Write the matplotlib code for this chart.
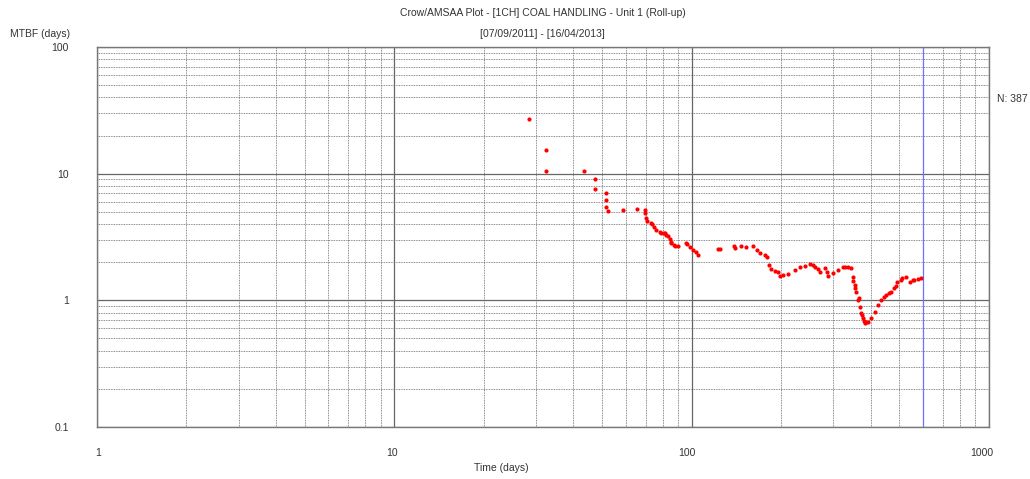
import matplotlib
matplotlib.use("Agg")
from matplotlib import pyplot as plt
from matplotlib.ticker import LogLocator, NullFormatter, FixedLocator
import matplotlib.transforms as mtransforms

plt.rcParams['font.family'] = ['Liberation Sans', 'DejaVu Sans']

# cumulative time (days) vs. MTBF (days)
time_days = [28.4, 32.3, 32.3, 43.4, 47.5, 47.5, 51.4, 51.4, 51.4, 52.5,
             58.7, 65.4, 69.7, 69.7, 70.5, 70.8, 73.3, 73.6, 74.5, 76.2,
             78.4, 79.1, 80.5, 81.2, 82.3, 83.0, 84.3, 85.1, 85.5, 87.1,
             87.8, 90.3, 96.0, 96.8, 98.5, 101.0, 103.8, 105.0, 122.7, 125.0,
             138.8, 139.5, 146.5, 152.8, 160.5, 165.9, 170.3, 176.0, 179.3, 182.0,
             185.5, 190.2, 195.2, 197.7, 202.8, 210.8, 222.0, 230.8, 240.0, 249.4,
             255.8, 259.2, 265.9, 269.4, 280.0, 285.0, 287.3, 298.7, 310.5, 322.6,
             327.0, 335.4, 344.3, 348.6, 350.0, 353.2, 355.0, 357.8, 363.0, 365.0,
             367.6, 372.0, 374.0, 376.7, 379.0, 381.6, 386.0, 391.5, 402.0, 412.4,
             423.0, 434.3, 445.0, 451.3, 462.0, 469.2, 480.0, 487.7, 492.0, 507.0,
             510.0, 527.0, 540.7, 554.6, 560.0, 576.6, 592.0]
mtbf_days = [27.0, 15.5, 10.4, 10.5, 9.08, 7.57, 7.05, 6.17, 5.49, 5.05,
             5.14, 5.30, 5.17, 4.86, 4.45, 4.21, 4.06, 4.00, 3.82, 3.60,
             3.45, 3.42, 3.40, 3.40, 3.28, 3.20, 3.03, 2.90, 2.85, 2.72,
             2.70, 2.70, 2.82, 2.79, 2.64, 2.50, 2.42, 2.26, 2.56, 2.54,
             2.69, 2.57, 2.69, 2.65, 2.69, 2.50, 2.36, 2.28, 2.19, 1.90,
             1.76, 1.71, 1.67, 1.56, 1.59, 1.61, 1.74, 1.82, 1.87, 1.94,
             1.90, 1.82, 1.76, 1.67, 1.79, 1.67, 1.56, 1.64, 1.74, 1.82,
             1.84, 1.84, 1.79, 1.54, 1.42, 1.33, 1.25, 1.16, 1.00, 1.04,
             0.886, 0.80, 0.76, 0.72, 0.69, 0.66, 0.67, 0.68, 0.72, 0.815,
             0.92, 1.01, 1.06, 1.10, 1.14, 1.17, 1.25, 1.30, 1.40, 1.45,
             1.50, 1.54, 1.40, 1.45, 1.45, 1.47, 1.51]

end_time = 599
n_failures = 387
x_ticks = [1, 10, 100, 1000]
x_labels = ['1', '10', '100', '1000']
y_ticks = [0.1, 1, 10, 100]
y_labels = ['0.1', '1', '10', '100']

fig = plt.figure(figsize=(10.30, 4.79), dpi=100)
ax = fig.add_axes([0.0939, 0.1086, 0.8663, 0.7933])
ax.set_xscale('log')
ax.set_yscale('log')
ax.set_xlim(1, 1000)
ax.set_ylim(0.1, 100)

ax.xaxis.set_major_locator(FixedLocator(x_ticks))
ax.yaxis.set_major_locator(FixedLocator(y_ticks))
ax.set_xticklabels(x_labels)
ax.set_yticklabels(y_labels)
ax.xaxis.set_minor_locator(LogLocator(base=10, subs=range(2, 10)))
ax.yaxis.set_minor_locator(LogLocator(base=10, subs=range(2, 10)))
ax.xaxis.set_minor_formatter(NullFormatter())
ax.yaxis.set_minor_formatter(NullFormatter())
ax.tick_params(which='both', length=0, labelsize=7.5, colors='#333333')
ax.tick_params(axis='x', pad=15)
ax.tick_params(axis='y', pad=20)

# x labels sit right-aligned just left of their gridline
for lab in ax.get_xticklabels():
    lab.set_horizontalalignment('right')
    lab.set_transform(lab.get_transform() + mtransforms.ScaledTranslation(4 / 100, 0, fig.dpi_scale_trans))

ax.grid(which='major', color='#666666', lw=0.9, ls='-')
ax.grid(which='minor', color='#666666', lw=0.6, ls=(0, (1, 1)))
for s in ax.spines.values():
    s.set_color('#777777')
    s.set_linewidth(1.0)

ax.axvline(end_time, color='#7070ff', lw=0.9)
ax.plot(time_days, mtbf_days, 'o', color='#ff0000', ms=3.0, mec='none', zorder=5)

fig.text(0.527, 0.972, 'Crow/AMSAA Plot - [1CH] COAL HANDLING - Unit 1 (Roll-up)',
         ha='center', va='center', fontsize=7.5, color='#333333')
fig.text(0.527, 0.929, '[07/09/2011] - [16/04/2013]',
         ha='center', va='center', fontsize=7.5, color='#333333')
fig.text(0.010, 0.930, 'MTBF (days)', ha='left', va='center', fontsize=7.5, color='#333333')
fig.text(0.487, 0.023, 'Time (days)', ha='center', va='center', fontsize=7.5, color='#333333')
fig.text(0.968, 0.793, 'N: %d' % n_failures, ha='left', va='center', fontsize=7.5, color='#333333')

fig.savefig('out.png', dpi=100)
